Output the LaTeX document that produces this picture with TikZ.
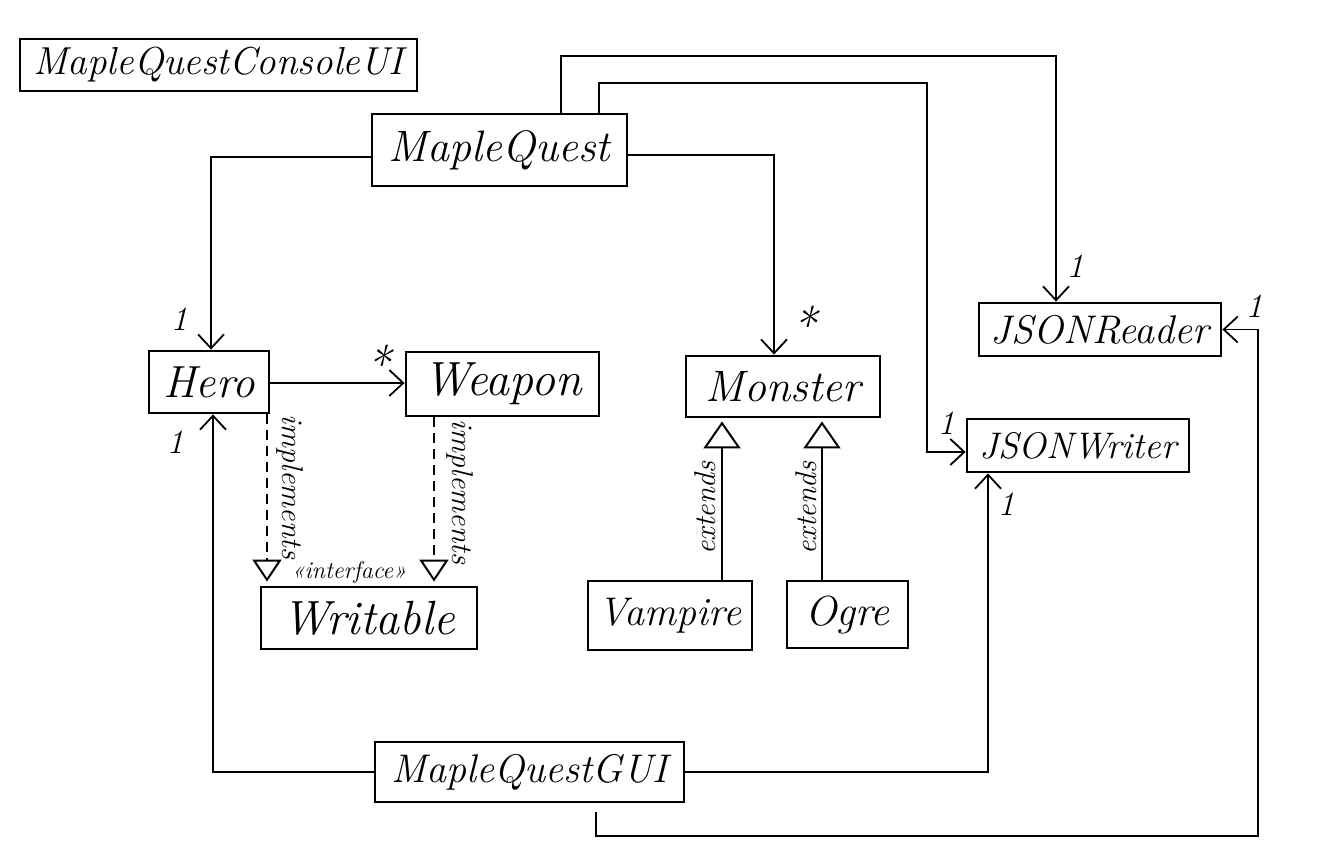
\documentclass[tikz,border=0pt]{standalone}
\usepackage{fontspec}
\usetikzlibrary{arrows.meta}
\begin{document}
\begin{tikzpicture}[x=1pt,y=-1pt,
  cls/.style={draw, line width=2.8pt, inner sep=0pt, align=center},
  hand/.style={font=\fontsize{#1}{#1}\selectfont\itshape},
  lab/.style={hand=30, inner sep=0pt},
  mult/.style={hand=34, inner sep=0pt},
  assoc/.style={line width=1.6pt, -{Straight Barb[length=14pt,width=26pt,line width=1.8pt]}},
  impl/.style={line width=1.6pt, dash pattern=on 10pt off 6pt, -{Triangle[open,length=22pt,width=29pt,line width=2pt]}},
  gen/.style={line width=1.6pt, -{Triangle[open,length=27pt,width=37pt,line width=2pt]}}
]
\fill[white] (0,0) rectangle (1322,860);
\useasboundingbox (0,0) rectangle (1322,860);

% classes
\node[cls, minimum width=397pt, minimum height=52pt, hand=39] (console) at (218.5,65) {MapleQuestConsoleUI};
\node[cls, minimum width=255pt, minimum height=72pt, hand=44] (mq) at (499.5,150) {MapleQuest};
\node[cls, minimum width=120pt, minimum height=62pt, hand=45] (hero) at (209,382) {Hero};
\node[cls, minimum width=193pt, minimum height=64pt, hand=48] (weapon) at (502.5,384) {Weapon};
\node[cls, minimum width=194pt, minimum height=61pt, hand=44] (monster) at (783,386.5) {Monster};
\node[cls, minimum width=242pt, minimum height=53pt, hand=40] (reader) at (1100,329.5) {JSONReader};
\node[cls, minimum width=222pt, minimum height=53pt, hand=37] (writer) at (1078,445.5) {JSONWriter};
\node[cls, minimum width=216pt, minimum height=62pt, hand=48] (writable) at (369,618) {Writable};
\node[cls, minimum width=164pt, minimum height=69pt, hand=40] (vampire) at (670,615.5) {Vampire};
\node[cls, minimum width=121pt, minimum height=67pt, hand=42] (ogre) at (847.5,614.5) {Ogre};
\node[cls, minimum width=309pt, minimum height=60pt, hand=40] (gui) at (529.5,772) {MapleQuestGUI};

% associations
\draw[assoc] (mq.west |- 0,157) -| (hero.north -| 211,0);
\draw[assoc] (mq.east |- 0,155) -| (monster.north -| 774,0);
\draw[assoc] (mq.north -| 561,0) -- (561,56) -| (reader.north -| 1056,0);
\draw[assoc] (mq.north -| 599,0) |- (927,83) |- (writer.west |- 0,452);
\draw[assoc] (hero.east |- 0,383) -- (weapon.west |- 0,383);
\draw[assoc] (gui.west) -| (hero.south -| 213,0);
\draw[assoc] (gui.east) -| (writer.south -| 988,0);
\draw[assoc, shorten <=9pt] (gui.south -| 596,0) |- (1258,836) |- (reader.east);

% realisation and generalisation
\draw[impl, shorten >=4pt] (hero.south -| 267,0) -- (writable.north -| 267,0);
\draw[impl, shorten >=4pt] (weapon.south -| 434,0) -- (writable.north -| 434,0);
\draw[gen, shorten >=3pt] (vampire.north -| 722,0) -- (monster.south -| 722,0);
\draw[gen, shorten >=3pt] (ogre.north -| 822,0) -- (monster.south -| 822,0);

% labels
\node[lab, rotate=-90] (imp1) at (290,487) {implements};
\node[lab, rotate=-90] (imp2) at (460,492) {implements};
\node[lab, rotate=90] (ext1) at (705,508) {extends};
\node[lab, rotate=90] (ext2) at (806,508) {extends};
\node[hand=24, inner sep=0pt] (iface) at (349,572) {«interface»};

% multiplicities
\node[mult] (m1) at (179,319) {1};
\node[mult] (m2) at (175,442) {1};
\node[mult] (m3) at (1075,266) {1};
\node[mult] (m4) at (1254,306) {1};
\node[mult] (m5) at (946,423) {1};
\node[mult] (m6) at (1006,504) {1};
\node[hand=50, anchor=north, inner sep=0pt] (s1) at (378,345) {*};
\node[hand=50, anchor=north, inner sep=0pt] (s2) at (804,306) {*};
\end{tikzpicture}
\end{document}
